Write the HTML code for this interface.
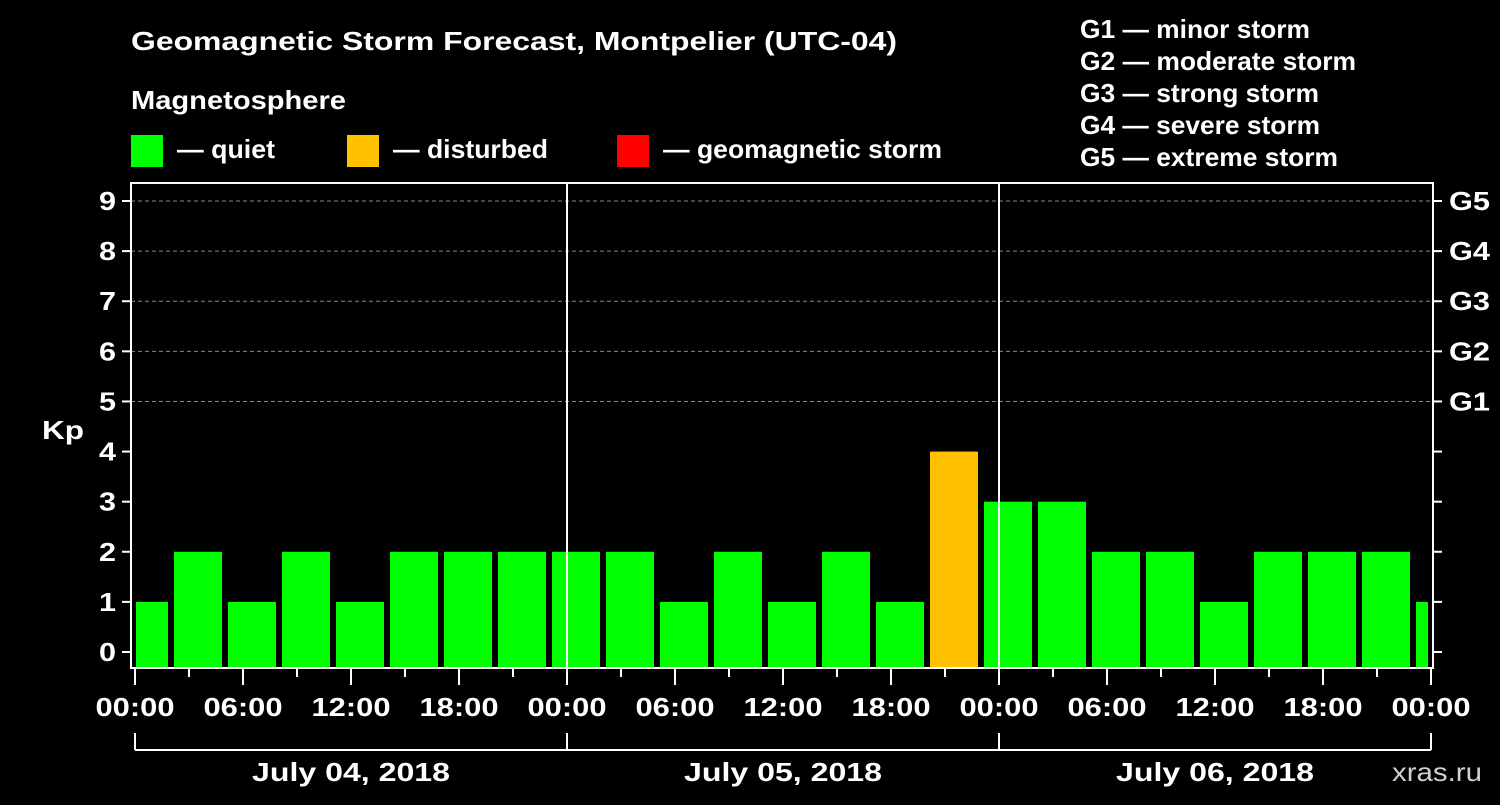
<!DOCTYPE html>
<html><head><meta charset="utf-8"><style>
body{margin:0;background:#000;width:1500px;height:800px;overflow:hidden}
svg text{font-family:"Liberation Sans",Arial,sans-serif;font-weight:bold;fill:#fff}
</style></head><body>
<svg id="c" width="1500" height="800" xmlns="http://www.w3.org/2000/svg">
<text x="131" y="50" font-size="26" textLength="766" lengthAdjust="spacingAndGlyphs">Geomagnetic Storm Forecast, Montpelier (UTC-04)</text>
<text x="131" y="109" font-size="26" textLength="215" lengthAdjust="spacingAndGlyphs">Magnetosphere</text>
<rect x="131" y="135" width="32" height="32" fill="#00ff00"/>
<text x="177" y="158" font-size="26" textLength="98" lengthAdjust="spacingAndGlyphs">— quiet</text>
<rect x="347" y="135" width="32" height="32" fill="#ffc000"/>
<text x="393" y="158" font-size="26" textLength="155" lengthAdjust="spacingAndGlyphs">— disturbed</text>
<rect x="617" y="135" width="32" height="32" fill="#ff0000"/>
<text x="663" y="158" font-size="26" textLength="279" lengthAdjust="spacingAndGlyphs">— geomagnetic storm</text>
<g font-size="26">
<text x="1080" y="38" textLength="230" lengthAdjust="spacingAndGlyphs">G1 — minor storm</text>
<text x="1080" y="70" textLength="276" lengthAdjust="spacingAndGlyphs">G2 — moderate storm</text>
<text x="1080" y="102" textLength="239" lengthAdjust="spacingAndGlyphs">G3 — strong storm</text>
<text x="1080" y="134" textLength="240" lengthAdjust="spacingAndGlyphs">G4 — severe storm</text>
<text x="1080" y="166" textLength="258" lengthAdjust="spacingAndGlyphs">G5 — extreme storm</text>
</g>
<text x="42" y="439" font-size="26" textLength="42" lengthAdjust="spacingAndGlyphs">Kp</text>
<text x="1392" y="781" font-size="26" textLength="90" lengthAdjust="spacingAndGlyphs" style="fill:#d0d0d0;font-weight:normal">xras.ru</text>
<g id="plot"></g>
</svg>
<script>
const kpValues=[1,2,1,2,1,2,2,2,2,2,1,2,1,2,1,4,3,3,2,2,1,2,2,2,1];
const barHours=[0.5,3.5,6.5,9.5,12.5,15.5,18.5,21.5,24.5,27.5,30.5,33.5,36.5,39.5,42.5,45.5,48.5,51.5,54.5,57.5,60.5,63.5,66.5,69.5,72.5];
const yTicks=[0,1,2,3,4,5,6,7,8,9];
const gLabels=["","","","","","G1","G2","G3","G4","G5"];
const xTickLabels=["00:00","06:00","12:00","18:00","00:00","06:00","12:00","18:00","00:00","06:00","12:00","18:00","00:00"];
const dayLabels=["July 04, 2018","July 05, 2018","July 06, 2018"];
const NS="http://www.w3.org/2000/svg";
const L=131,R=1433,T=183,B=668;
const x=h=>135+18*h;
const y=v=>652-50.11*v;
const g=document.getElementById('plot');
function mk(tag,a,p){const e=document.createElementNS(NS,tag);for(const k in a)e.setAttribute(k,a[k]);(p||g).appendChild(e);return e;}
const defs=mk('defs',{});
const cp=mk('clipPath',{id:'cp'},defs);mk('rect',{x:x(0)+1,y:T,width:x(72)-x(0)-4,height:B-T},cp);
yTicks.forEach(v=>{if(v>=5){const l=mk('line',{x1:L,x2:R,y1:y(v),y2:y(v),stroke:'#888','stroke-dasharray':'4,3'});

}});
const bg=mk('g',{'clip-path':'url(#cp)'});
kpValues.forEach((v,i)=>{const c=v>=5?'#ff0000':(v>=4?'#ffc000':'#00ff00');
const r=mk('rect',{x:x(barHours[i])-24,y:y(v),width:48,height:B-y(v),fill:c},bg);

});
[1,2].forEach(d=>{const l=mk('line',{x1:x(24*d),x2:x(24*d),y1:T,y2:B,stroke:'#fff','stroke-width':2});

});
const f=mk('rect',{x:L,y:T,width:R-L,height:B-T,fill:'none',stroke:'#fff','stroke-width':2});


yTicks.forEach(v=>{mk('line',{x1:L-9,x2:L,y1:y(v),y2:y(v),stroke:'#fff','stroke-width':2});
mk('line',{x1:R,x2:R+9,y1:y(v),y2:y(v),stroke:'#fff','stroke-width':2});
const t=mk('text',{x:L-15,y:y(v)+9,'text-anchor':'end','font-size':26,textLength:17,lengthAdjust:'spacingAndGlyphs'});t.textContent=v;


if(gLabels[v]){const t2=mk('text',{x:R+16,y:y(v)+9,'font-size':26,textLength:41,lengthAdjust:'spacingAndGlyphs'});t2.textContent=gLabels[v];

}});
for(let h=0;h<=72;h+=3){const major=h%6===0;mk('line',{x1:x(h),x2:x(h),y1:B+1,y2:major?B+17:B+9,stroke:'#fff','stroke-width':2});}
xTickLabels.forEach((s,i)=>{const t=mk('text',{x:x(6*i),y:716,'text-anchor':'middle','font-size':26,textLength:79,lengthAdjust:'spacingAndGlyphs'});t.textContent=s;

});
mk('line',{x1:x(0),x2:x(72),y1:750,y2:750,stroke:'#fff','stroke-width':2});
[0,24,48,72].forEach(h=>mk('line',{x1:x(h),x2:x(h),y1:733,y2:750,stroke:'#fff','stroke-width':2}));
dayLabels.forEach((s,i)=>{const t=mk('text',{x:x(24*i+12),y:781,'text-anchor':'middle','font-size':26,textLength:198,lengthAdjust:'spacingAndGlyphs'});t.textContent=s;

});
</script>
</body></html>
